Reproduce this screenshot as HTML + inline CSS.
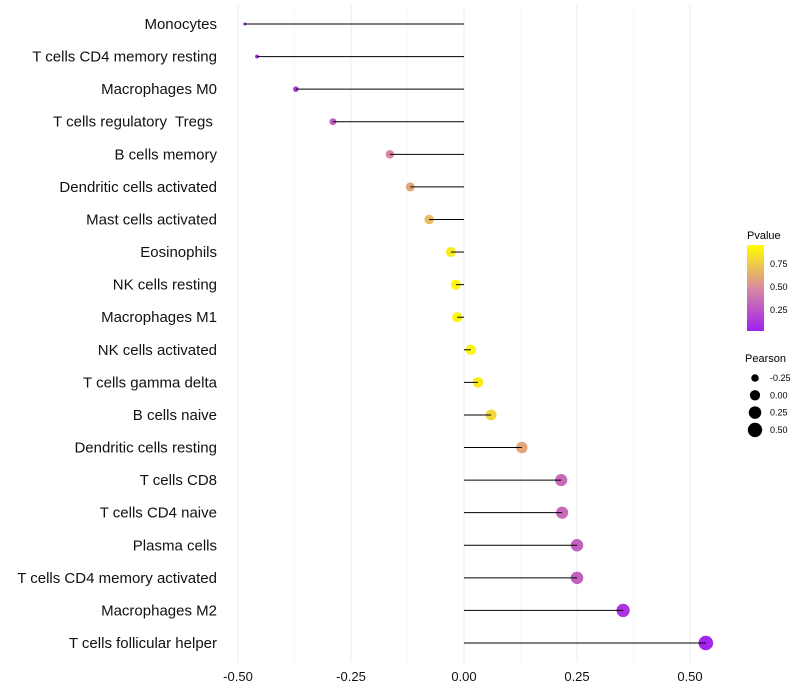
<!DOCTYPE html>
<html><head><meta charset="utf-8"><style>
body{margin:0;background:#fff;font-family:"Liberation Sans",sans-serif;}
svg{display:block}
text{white-space:pre}
</style></head><body>
<svg id="chart" width="800" height="700">
<g id="grid"></g>
<g id="marks"></g>
<g id="axes"></g>
<g id="legend">
<defs><linearGradient id="pg" x1="0" y1="1" x2="0" y2="0">
<stop offset="0" stop-color="#a020f0"/><stop offset="0.5" stop-color="#d98aa0"/><stop offset="1" stop-color="#ffff00"/></linearGradient></defs>
<text x="747" y="239" font-size="11">Pvalue</text>
<rect x="747" y="245" width="17" height="86" fill="url(#pg)"/>
<text x="770" y="267" font-size="9">0.75</text>
<text x="770" y="290" font-size="9">0.50</text>
<text x="770" y="313" font-size="9">0.25</text>
<text x="745" y="362" font-size="11">Pearson</text>
</g>
</svg>
<script>
const categories=["Monocytes","T cells CD4 memory resting","Macrophages M0","T cells regulatory  Tregs ","B cells memory","Dendritic cells activated","Mast cells activated","Eosinophils","NK cells resting","Macrophages M1","NK cells activated","T cells gamma delta","B cells naive","Dendritic cells resting","T cells CD8","T cells CD4 naive","Plasma cells","T cells CD4 memory activated","Macrophages M2","T cells follicular helper"];
const pearson=[-0.485,-0.458,-0.372,-0.29,-0.164,-0.119,-0.077,-0.029,-0.018,-0.015,0.015,0.031,0.06,0.128,0.215,0.217,0.25,0.25,0.352,0.535];
const pvalue=[0.02,0.03,0.1,0.3,0.5,0.62,0.72,0.92,0.96,0.96,0.96,0.92,0.82,0.62,0.35,0.35,0.3,0.3,0.1,0.02];
const xTicks=[-0.5,-0.25,0,0.25,0.5];
const xTickLabels=["-0.50","-0.25","0.00","0.25","0.50"];
const sizeLegend=[-0.25,0,0.25,0.5];
const sizeLegendLabels=["-0.25","0.00","0.25","0.50"];
const NS="http://www.w3.org/2000/svg";
const x=v=>464+v*452;
const y=i=>24+i*(643-24)/19;
const pmin=Math.min(...pearson);
const r=v=>Math.sqrt(Math.max(2.25,50*(v-pmin)+2.25));
function hex(h){return [1,3,5].map(k=>parseInt(h.substr(k,2),16));}
function col(p){const a=hex("#a020f0"),m=hex("#d98aa0"),b=hex("#ffff00");let c0,c1,t;
 if(p<0.5){c0=a;c1=m;t=p/0.5}else{c0=m;c1=b;t=(p-0.5)/0.5}
 return "rgb("+c0.map((c,k)=>Math.round(c+(c1[k]-c)*t)).join(",")+")";}
function el(t,a,parent){const e=document.createElementNS(NS,t);for(const k in a)e.setAttribute(k,a[k]);parent.appendChild(e);return e;}
const grid=document.getElementById("grid"),marks=document.getElementById("marks"),axes=document.getElementById("axes"),legend=document.getElementById("legend");
[-0.375,-0.125,0.125,0.375].forEach(v=>{const l=el("line",{x1:x(v),x2:x(v),y1:5,y2:662,stroke:"#f3f3f3","stroke-width":0.6},grid);

});
xTicks.forEach((v,i)=>{const l=el("line",{x1:x(v),x2:x(v),y1:5,y2:662,stroke:"#ebebeb","stroke-width":1},grid);


const t=el("text",{x:x(v),y:681,"font-size":13,"text-anchor":"middle",fill:"#111"},axes);t.textContent=xTickLabels[i];

});
categories.forEach((c,i)=>{
 const t=el("text",{x:217,y:y(i)+5,"font-size":15,"text-anchor":"end",fill:"#111"},axes);t.textContent=c;
 
 
 const d=el("circle",{cx:x(pearson[i]),cy:y(i),r:r(pearson[i]),fill:col(pvalue[i])},marks);
 
 
 const l=el("line",{x1:x(0),x2:x(pearson[i]),y1:y(i),y2:y(i),stroke:"#000","stroke-width":1},marks);
 
 
});
sizeLegend.forEach((v,i)=>{const cy=378+i*17.3;
 const c=el("circle",{cx:755,cy:cy,r:r(v),fill:"#000"},legend);
 
 
 const t=el("text",{x:770,y:cy+3,"font-size":9},legend);t.textContent=sizeLegendLabels[i];
 
 });
</script>
</body></html>
